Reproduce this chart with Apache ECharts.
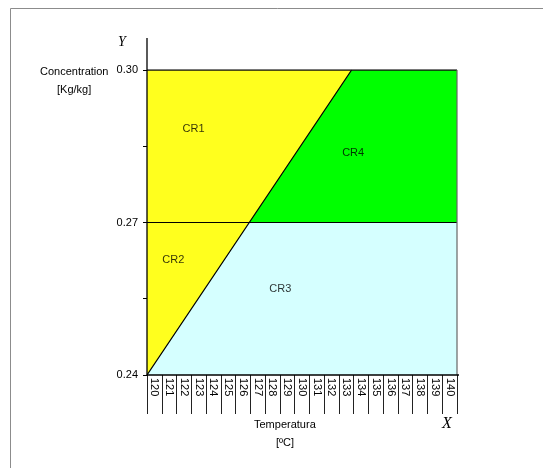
<!DOCTYPE html>
<html>
<head>
<meta charset="utf-8">
<script src="https://cdn.jsdelivr.net/npm/echarts@6/dist/echarts.min.js"></script>
<style>
  html, body { margin: 0; padding: 0; background: #ffffff; }
  #chart { width: 543px; height: 468px; }
</style>
</head>
<body>
<div id="chart"></div>
<script>
// Temperature categories shown along the X axis (ºC)
const temperatures = [120, 121, 122, 123, 124, 125, 126, 127, 128, 129, 130,
                      131, 132, 133, 134, 135, 136, 137, 138, 139, 140];
// Concentration levels bounding the regions (Kg/kg)
const concentrationLevels = [0.24, 0.27, 0.30];
// Temperature of the sloped boundary at each concentration level
const boundaryTemps = [120, 126.6, 133.2];
// Temperature range of the diagram
const tempRange = [120, 140];
// Region names and where each name is written (temperature, concentration)
const regionNames = ['CR1', 'CR2', 'CR3', 'CR4'];
const regionLabelTemps = [123.0, 121.7, 128.6, 133.3];
const regionLabelConcs = [0.2884, 0.2626, 0.2569, 0.2837];

const FONT = '"Liberation Sans", Arial, sans-serif';
const SERIF = '"Liberation Serif", "Times New Roman", serif';

const [c0, c1, c2] = concentrationLevels;
const [b0, b1, b2] = boundaryTemps;
const [tLo, tHi] = tempRange;

// Region polygons built from the boundary line and the concentration levels
const regions = [
  { color: '#ffff1e', pts: [[tLo, c1], [b1, c1], [b2, c2], [tLo, c2]] },        // CR1
  { color: '#ffff1e', pts: [[b0, c0], [b1, c1], [tLo, c1]] },                   // CR2
  { color: '#d5ffff', pts: [[b0, c0], [tHi, c0], [tHi, c1], [b1, c1]] },        // CR3
  { color: '#00ff00', pts: [[b1, c1], [tHi, c1], [tHi, c2], [b2, c2]] }         // CR4
];

const chart = echarts.init(document.getElementById('chart'), null, { renderer: 'canvas' });

function lineSeries(data, color, width, clip) {
  return {
    type: 'line', xAxisIndex: 0, yAxisIndex: 0,
    data: data, symbol: 'none', silent: true, clip: clip !== false,
    lineStyle: { color: color, width: width },
    z: 5
  };
}

chart.setOption({
  animation: false,
  backgroundColor: '#ffffff',
  grid: { left: 147, right: 86, top: 70, bottom: 93 },
  xAxis: [
    { type: 'value', min: tLo, max: tHi, show: false, position: 'top' },
    {
      type: 'category', position: 'bottom',
      data: temperatures.map(String),
      boundaryGap: true,
      axisLine: { show: false },
      axisTick: { show: true, length: 39, interval: 0, lineStyle: { color: '#222', width: 1 } },
      axisLabel: { rotate: -90, interval: 0, margin: 3, fontSize: 11, fontFamily: FONT, color: '#000' },
      splitLine: { show: false }
    }
  ],
  yAxis: {
    type: 'value', min: c0, max: c2, interval: 0.015,
    axisLine: { show: false },
    axisTick: { show: true, length: 4, lineStyle: { color: '#000' } },
    axisLabel: {
      margin: 9, fontSize: 11, fontFamily: FONT, color: '#000',
      formatter: v => (Math.round(v * 1000) % 30 === 0 ? v.toFixed(2) : '')
    },
    splitLine: { show: false }
  },
  series: [
    {
      type: 'custom', xAxisIndex: 0, yAxisIndex: 0, silent: true,
      data: regions.map((r, i) => [i]),
      renderItem: function (params, api) {
        const r = regions[params.dataIndex];
        return {
          type: 'polygon',
          shape: { points: r.pts.map(p => api.coord(p)) },
          style: { fill: r.color, stroke: null }
        };
      },
      z: 2
    },
    // boundaries between regions
    lineSeries([[b0, c0], [b1, c1], [b2, c2]], '#000', 1.3),
    lineSeries([[tLo, c1], [tHi, c1]], '#000', 1),
    lineSeries([[tLo, c2], [tHi, c2]], '#111', 1.5),
    lineSeries([[tHi, c0], [tHi, c2]], '#666', 1.2),
    // axis lines, running a little past the plotted area
    lineSeries([[tLo, c0], [tLo, c2 + 0.0063]], '#000', 1.3, false),
    lineSeries([[tLo, c0], [tHi + 0.6, c0]], '#000', 1.3, false),
    {
      type: 'scatter', xAxisIndex: 0, yAxisIndex: 0, silent: true,
      symbolSize: 1, itemStyle: { color: 'transparent' },
      data: regionNames.map((n, i) => ({ name: n, value: [regionLabelTemps[i], regionLabelConcs[i]] })),
      label: {
        show: true, position: 'inside', formatter: p => p.name,
        fontSize: 11, fontFamily: FONT, color: '#000'
      },
      z: 10
    }
  ],
  graphic: [
    {
      type: 'rect', silent: true, z: -1,
      shape: { x: 10.5, y: 8.5, width: 600, height: 500 },
      style: { fill: 'none', stroke: '#8c8c8c', lineWidth: 1 }
    },
    {
      type: 'text', left: 40, top: 66,
      style: { text: 'Concentration', font: '11px ' + FONT, fill: '#000' }
    },
    {
      type: 'text', left: 57, top: 84,
      style: { text: '[Kg/kg]', font: '11px ' + FONT, fill: '#000' }
    },
    {
      type: 'text', left: 118, top: 35,
      style: { text: 'Y', font: 'italic 14px ' + SERIF, fill: '#000' }
    },
    {
      type: 'text', left: 254, top: 419,
      style: { text: 'Temperatura', font: '11px ' + FONT, fill: '#000' }
    },
    {
      type: 'text', left: 276, top: 437,
      style: { text: '[ºC]', font: '11px ' + FONT, fill: '#000' }
    },
    {
      type: 'text', left: 442, top: 416,
      style: { text: 'X', font: 'italic 16px ' + SERIF, fill: '#000' }
    }
  ]
});
</script>
</body>
</html>
